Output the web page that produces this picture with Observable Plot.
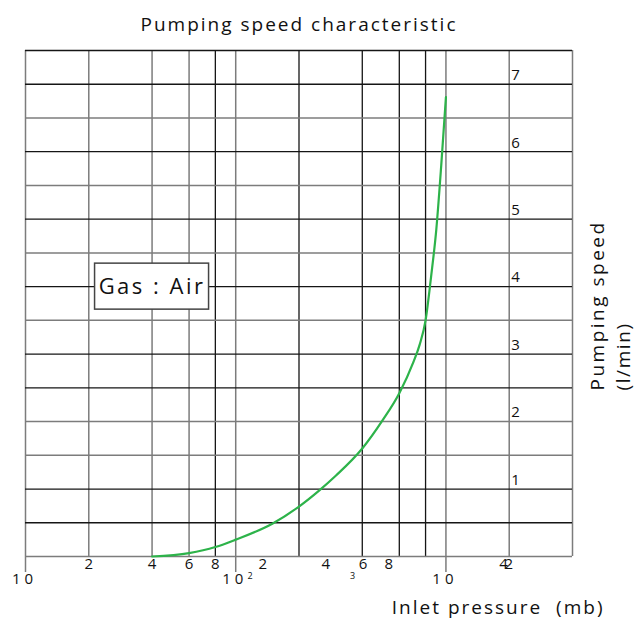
<!DOCTYPE html>
<html><head><meta charset="utf-8">
<script src="https://cdn.jsdelivr.net/npm/d3@7"></script>
<script src="https://cdn.jsdelivr.net/npm/@observablehq/plot@0.6"></script>
<style>body{margin:0;background:#fff} #chart svg{overflow:visible}</style>
</head><body><div id="chart"></div>
<script>
// ---- text ----
const title = "Pumping speed characteristic";
const xTitle = "Inlet pressure  (mb)";
const yTitle1 = "Pumping speed";
const yTitle2 = "(l/min)";
const gasLabel = "Gas : Air";

// ---- curve data (inlet pressure mb, pumping speed l/min) ----
const pressure = [40, 60, 80, 100, 150, 200, 250, 300, 400, 500, 600, 700, 750, 800, 850, 900, 950, 1000];
const speed    = [0, 0.05, 0.14, 0.25, 0.49, 0.74, 0.98, 1.2, 1.6, 2.02, 2.42, 2.88, 3.14, 3.5, 4.15, 4.85, 5.8, 6.81];

// ---- grid & ticks ----
const xGrid = [10, 20, 40, 60, 80, 100, 200, 400, 600, 800, 1000, 2000, 4000];
const xGridDark = [80, 200, 400, 600, 800];
const yGrid = [0, 0.5, 1, 1.5, 2, 2.5, 3, 3.5, 4, 4.5, 5, 5.5, 6, 6.5, 7, 7.5];
const yGridDark = [0.5, 1, 2.5, 3, 4, 5, 6, 7, 7.5];
const xMajor = [10, 100, 1000];
const yTickValues = [1, 2, 3, 4, 5, 6, 7];

// tick labels as printed on the original sheet (some are displaced)
const xDigitPos = [20, 40, 60, 80, 134.5, 268, 403, 535, 1880, 1990];
const xDigitText = ["2", "4", "6", "8", "2", "4", "6", "8", "4", "2"];
const xDecadePos = [10, 100, 1000];
const xDecadeText = ["10", "10", "10"];
const xSupPos = [117, 360];
const xSupText = ["2", "3"];

// annotation position (data coords)
const gasPos = [{x: 40, y: 4}];

const curve = pressure.map((p, i) => ({p, s: speed[i]}));
const digits = xDigitPos.map((v, i) => ({v, t: xDigitText[i]}));
const decades = xDecadePos.map((v, i) => ({v, t: xDecadeText[i]}));
const sups = xSupPos.map((v, i) => ({v, t: xSupText[i]}));

const font = "'Open Sans', 'DejaVu Sans', sans-serif";
const gray = "#7c7c7c", dark = "#151515", ink = "#111";

const chart = Plot.plot({
  width: 636,
  height: 628,
  marginLeft: 25,
  marginRight: 64,
  marginTop: 50,
  marginBottom: 72,
  style: {fontFamily: font, background: "#fff", color: ink},
  x: {type: "log", domain: [10, 4000], axis: null, label: null},
  y: {domain: [0, 7.5], axis: null, label: null},
  marks: [
    Plot.ruleX(xGrid.filter(d => !xGridDark.includes(d)), {stroke: gray, strokeWidth: 1.5}),
    Plot.ruleX(xGridDark, {stroke: dark, strokeWidth: 1.3}),
    Plot.ruleY(yGrid.filter(d => !yGridDark.includes(d)), {stroke: gray, strokeWidth: 1.5}),
    Plot.ruleY(yGridDark, {stroke: dark, strokeWidth: 1.3}),
    Plot.axisX(xMajor, {tickSize: 16, tickFormat: () => "", stroke: gray, strokeWidth: 1.5, label: null}),
    Plot.line(curve, {x: "p", y: "s", curve: "monotone-x", stroke: "#2db34a", strokeWidth: 2.2}),
    // y tick labels
    Plot.text(yTickValues, {x: 2000, y: d => d, text: d => String(d), textAnchor: "start", dx: 2, dy: -9, fontSize: 15, fill: ink}),
    // x tick labels
    Plot.text(digits, {x: "v", text: "t", frameAnchor: "bottom", dy: 12, fontSize: 15, fill: ink}),
    Plot.text(decades, {x: "v", text: "t", frameAnchor: "bottom", dy: 27, dx: -1, fontSize: 15, fill: ink}),
    Plot.text(sups, {x: "v", text: "t", frameAnchor: "bottom", dy: 22, fontSize: 9, fill: ink}),
    // gas annotation
    Plot.rect(gasPos, {x1: "x", x2: "x", y1: "y", y2: "y", insetLeft: -57, insetRight: -57, insetTop: -23, insetBottom: -23, fill: "#fff", stroke: "#444", strokeWidth: 1.5}),
    Plot.text(gasPos, {x: "x", y: "y", text: () => gasLabel, fontSize: 22, fill: ink, dx: 0}),
    // titles
    Plot.text([title], {frameAnchor: "top", dy: -33, fontSize: 19, fill: ink}),
    Plot.text([xTitle], {frameAnchor: "bottom-right", textAnchor: "end", dx: 32, dy: 57, fontSize: 19, fill: ink}),
    Plot.text([yTitle1], {frameAnchor: "right", rotate: -90, textAnchor: "start", dx: 25, dy: 87, fontSize: 19, fill: ink}),
    Plot.text([yTitle2], {frameAnchor: "right", rotate: -90, textAnchor: "start", dx: 51, dy: 87, fontSize: 19, fill: ink})
  ]
});

// letter spacing of the printed lettering
const spacing = new Map([[title, "2px"], [xTitle, "2px"], [yTitle1, "2.5px"], [yTitle2, "1.6px"], [gasLabel, "2.5px"], ["10", "4px"]]);
d3.select(chart).selectAll("text").each(function () {
  const s = spacing.get(this.textContent);
  if (s) this.style.letterSpacing = s;
});
document.getElementById("chart").appendChild(chart);
</script>
</body></html>
